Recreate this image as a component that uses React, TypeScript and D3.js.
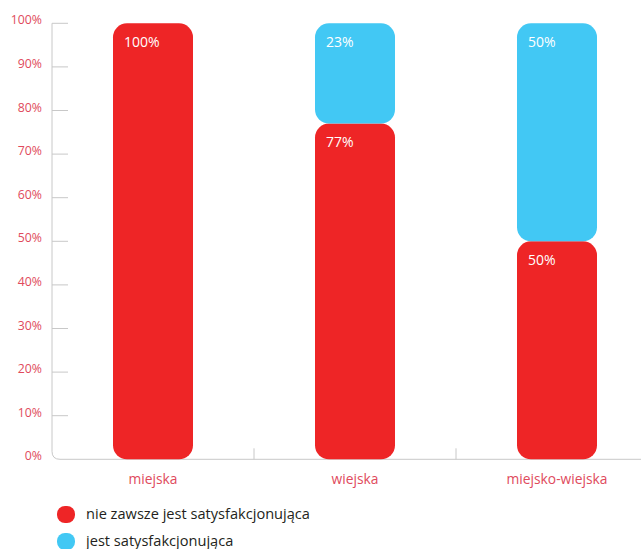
import React from "react";
import * as d3 from "d3";

const categories = ["miejska", "wiejska", "miejsko-wiejska"];
const notAlways = [100, 77, 50];
const satisfying = [0, 23, 50];
const seriesNames = ["nie zawsze jest satysfakcjonująca", "jest satysfakcjonująca"];
const yTicks = [0, 10, 20, 30, 40, 50, 60, 70, 80, 90, 100];

const RED = "#ee2526";
const BLUE = "#42c8f4";
const LABEL = "#e04a5c";
const FONT = "'Open Sans', 'Noto Sans', sans-serif";

export default function App() {
  const W = 641, H = 549;
  const x0 = 52;
  const y = d3.scaleLinear().domain([0, 100]).range([459.3, 23.3]);
  const x = d3.scaleBand().domain(categories).range([x0, x0 + 202 * 3]).paddingInner(0).paddingOuter(0);
  const barW = 80;
  const r = 14;
  const stack = d3.stack<any>().keys(["a", "b"])(
    categories.map((c, i) => ({ cat: c, a: notAlways[i], b: satisfying[i] }))
  );
  const colors = [RED, BLUE];
  const base = y(0);
  return (
    <svg width={W} height={H} style={{ display: "block", position: "absolute", left: 0, top: 0 }} fontFamily={FONT}>
      <path d={`M${x0},${y(100)} V${base - 8} Q${x0},${base} ${x0 + 8},${base} H${W}`} fill="none" stroke="#c8c8c8" strokeWidth={1} />
      {yTicks.map((t) => (
        <g key={t}>
          {t > 0 && <line x1={x0} x2={x0 + 16} y1={y(t)} y2={y(t)} stroke="#c8c8c8" />}
          <text x={42} y={y(t) + 1} textAnchor="end" fontSize={12.3} fill={LABEL}>{t}%</text>
        </g>
      ))}
      {categories.slice(1).map((c) => (
        <line key={c} x1={x(c)!} x2={x(c)!} y1={base - 11} y2={base} stroke="#c8c8c8" />
      ))}
      {stack.map((s, si) =>
        s.map((d, i) => {
          const v = d[1] - d[0];
          if (v <= 0) return null;
          const cx = x(categories[i])! + x.bandwidth() / 2;
          const top = y(d[1]);
          const bot = y(d[0]);
          return (
            <g key={`${si}-${i}`}>
              <rect x={cx - barW / 2} y={top} width={barW} height={bot - top} rx={r} ry={r} fill={colors[si]} />
              <text x={cx - barW / 2 + 11} y={top + 23.5} fontSize={14} fill="#fff">{Math.round(v)}%</text>
            </g>
          );
        })
      )}
      {categories.map((c) => (
        <text key={c} x={x(c)! + x.bandwidth() / 2} y={484} textAnchor="middle" fontSize={13.8} fill={LABEL}>{c}</text>
      ))}
      {seriesNames.map((n, i) => (
        <g key={n}>
          <rect x={57} y={506 + i * 27} width={18} height={17} rx={8} fill={colors[i]} />
          <text x={86} y={519 + i * 27} fontSize={14.6} fill="#231f20">{n}</text>
        </g>
      ))}
    </svg>
  );
}
